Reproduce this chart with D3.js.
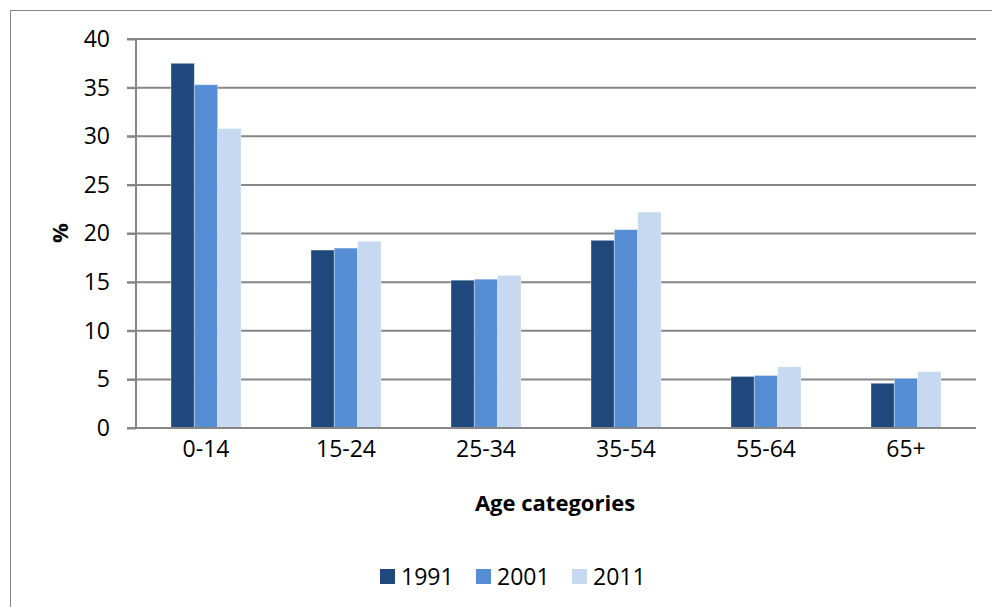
<!DOCTYPE html>
<html>
<head>
<meta charset="utf-8">
<script src="https://cdn.jsdelivr.net/npm/d3@7"></script>
<style>
  html, body { margin: 0; padding: 0; background: #fff; }
  svg { display: block; font-family: "Open Sans", sans-serif; }
</style>
</head>
<body>
<svg id="chart" width="992" height="607"></svg>
<script>
// Population share by age group, census years
const categories = ["0-14", "15-24", "25-34", "35-54", "55-64", "65+"];
const years = ["1991", "2001", "2011"];
const values1991 = [37.5, 18.3, 15.2, 19.3, 5.3, 4.6];
const values2001 = [35.3, 18.5, 15.3, 20.4, 5.4, 5.1];
const values2011 = [30.8, 19.2, 15.7, 22.2, 6.3, 5.8];
const yTicks = [0, 5, 10, 15, 20, 25, 30, 35, 40];
const colors = ["#1F497D", "#558ED5", "#C6D9F1"];

const seriesValues = [values1991, values2001, values2011];
const fontSize = 23;

const svg = d3.select("#chart");
const margin = { left: 136, right: 976, top: 39, bottom: 428 };

// outer frame
svg.append("rect")
  .attr("x", 10.5).attr("y", 10.5)
  .attr("width", 1000).attr("height", 1000)
  .attr("fill", "none").attr("stroke", "#868686").attr("stroke-width", 1);

const x0 = d3.scaleBand().domain(categories).range([margin.left, margin.right])
  .paddingInner(0.5).paddingOuter(0.25);
const x1 = d3.scaleBand().domain(years).range([0, x0.bandwidth()]);
const y = d3.scaleLinear().domain([0, 40]).range([margin.bottom, margin.top]);

// gridlines
svg.append("g").selectAll("line").data(yTicks.filter(t => t > 0)).join("line")
  .attr("x1", margin.left - 9).attr("x2", margin.right)
  .attr("y1", d => y(d)).attr("y2", d => y(d))
  .attr("stroke", "#868686").attr("stroke-width", 2);

// bars
const groups = svg.append("g").selectAll("g").data(categories).join("g")
  .attr("transform", c => `translate(${x0(c)},0)`);
groups.selectAll("rect")
  .data((c, i) => years.map((yr, j) => ({ yr, v: seriesValues[j][i], j })))
  .join("rect")
  .attr("x", d => x1(d.yr))
  .attr("y", d => y(d.v))
  .attr("width", x1.bandwidth())
  .attr("height", d => y(0) - y(d.v))
  .attr("fill", d => colors[d.j])
  .attr("stroke", "rgba(255,255,255,0.35)")
  .attr("stroke-width", 1);

// y axis
const yAxis = d3.axisLeft(y).tickValues(yTicks).tickSize(9).tickPadding(17);
const ya = svg.append("g").attr("transform", `translate(${margin.left},0)`).call(yAxis);
ya.select(".domain").attr("stroke", "#868686").attr("stroke-width", 2)
  .attr("d", `M0,${margin.top}V${margin.bottom}`);
ya.selectAll(".tick line").attr("stroke", "#868686").attr("stroke-width", 2);
ya.selectAll(".tick text").attr("font-size", fontSize).attr("fill", "#000")
  .attr("font-family", "'Open Sans', sans-serif");

// x axis baseline
const xAxis = d3.axisBottom(x0).tickSize(0).tickPadding(13);
const xa = svg.append("g").attr("transform", `translate(0,${margin.bottom})`).call(xAxis);
xa.select(".domain").attr("stroke", "#868686").attr("stroke-width", 2)
  .attr("d", `M${margin.left - 9},0H${margin.right}`);
xa.selectAll(".tick text").attr("font-size", fontSize).attr("fill", "#000")
  .attr("font-family", "'Open Sans', sans-serif");

// axis titles
svg.append("text").attr("x", 555).attr("y", 511).attr("text-anchor", "middle")
  .attr("font-size", 22).attr("font-weight", "bold").text("Age categories");
svg.append("text").attr("transform", "translate(68,233) rotate(-90)")
  .attr("text-anchor", "middle").attr("font-size", 22).attr("font-weight", "bold").text("%");

// legend
const legendX = [380, 476, 572];
const legend = svg.append("g").selectAll("g").data(years).join("g")
  .attr("transform", (d, i) => `translate(${legendX[i]},569)`);
legend.append("rect").attr("width", 15).attr("height", 15)
  .attr("fill", (d, i) => colors[i]);
legend.append("text").attr("x", 21).attr("y", 16).attr("font-size", fontSize)
  .attr("fill", "#000").text(d => d);
</script>
</body>
</html>
